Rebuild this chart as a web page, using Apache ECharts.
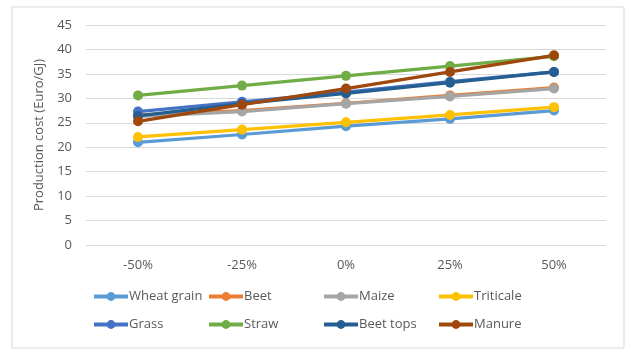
<!DOCTYPE html>
<html>
<head>
    <meta charset="utf-8">
    <title>Production cost</title>
    <style>
        html, body {margin:0;padding:0;background:#fff;}
        #main {width:633px;height:355px;}
    </style>
</head>
<body>
<div id="main"></div>
<script src="https://cdn.jsdelivr.net/npm/echarts@6/dist/echarts.min.js"></script>
<script>
    // data
    var categories = ['-50%', '-25%', '0%', '25%', '50%'];
    var wheatGrain = [21.0, 22.6, 24.3, 25.8, 27.5];
    var beet       = [26.6, 27.5, 29.0, 30.6, 32.2];
    var maize      = [26.3, 27.3, 28.9, 30.4, 32.0];
    var triticale  = [22.1, 23.6, 25.1, 26.6, 28.2];
    var grass      = [27.3, 29.3, 31.3, 33.4, 35.4];
    var straw      = [30.6, 32.6, 34.6, 36.6, 38.6];
    var beetTops   = [26.4, 28.9, 31.0, 33.2, 35.4];
    var manure     = [25.3, 28.7, 32.0, 35.4, 38.8];
    var yTicks = [0, 45, 5];

    var names  = ['Wheat grain','Beet','Maize','Triticale','Grass','Straw','Beet tops','Manure'];
    var values = [wheatGrain, beet, maize, triticale, grass, straw, beetTops, manure];
    var colors = ['#5B9BD5','#ED7D31','#A5A5A5','#FFC000','#4472C4','#70AD47','#255E91','#9E480E'];

    var font = '"Open Sans", "Liberation Sans", sans-serif';
    var colLeft = [92, 207, 322, 437];
    var rowTop = [290, 318];

    var legends = names.map(function (n, i) {
        return {
            data: [n],
            left: colLeft[i % 4],
            top: rowTop[Math.floor(i / 4)],
            itemWidth: 34,
            itemHeight: 11,
            itemGap: 0,
            padding: 0,
            lineStyle: {width: 4},
            textStyle: {color:'#595959', fontSize:13, fontFamily:font, padding:[0,0,0,-4]}
        };
    });

    var series = names.map(function (n, i) {
        return {
            name: n,
            type: 'line',
            data: values[i],
            symbol: 'circle',
            symbolSize: 10,
            lineStyle: {width: 3.2, color: colors[i]},
            itemStyle: {color: colors[i]},
            animation: false
        };
    });

    var chart = echarts.init(document.getElementById('main'));
    chart.setOption({
        color: colors,
        animation: false,
        grid: {left: 86, right: 27, top: 25, bottom: 110},
        legend: legends,
        graphic: [{
            type: 'rect',
            shape: {x: 12, y: 7, width: 612, height: 341},
            style: {fill: 'none', stroke: '#d9d9d9', lineWidth: 1},
            silent: true
        }],
        xAxis: {
            type: 'category',
            data: categories,
            boundaryGap: true,
            axisLine: {show: false},
            axisTick: {show: false},
            axisLabel: {color:'#595959', fontSize:13, fontFamily:font, margin:14}
        },
        yAxis: {
            type: 'value',
            min: yTicks[0],
            max: yTicks[1],
            interval: yTicks[2],
            name: 'Production cost (Euro/GJ)',
            nameLocation: 'middle',
            nameGap: 33,
            nameTextStyle: {color:'#595959', fontSize:13, fontFamily:font},
            axisLine: {show: false},
            axisTick: {show: false},
            axisLabel: {color:'#595959', fontSize:13, fontFamily:font, margin:14},
            splitLine: {lineStyle: {color:'#d9d9d9', width: 1}}
        },
        series: series
    });
</script>
</body>
</html>
